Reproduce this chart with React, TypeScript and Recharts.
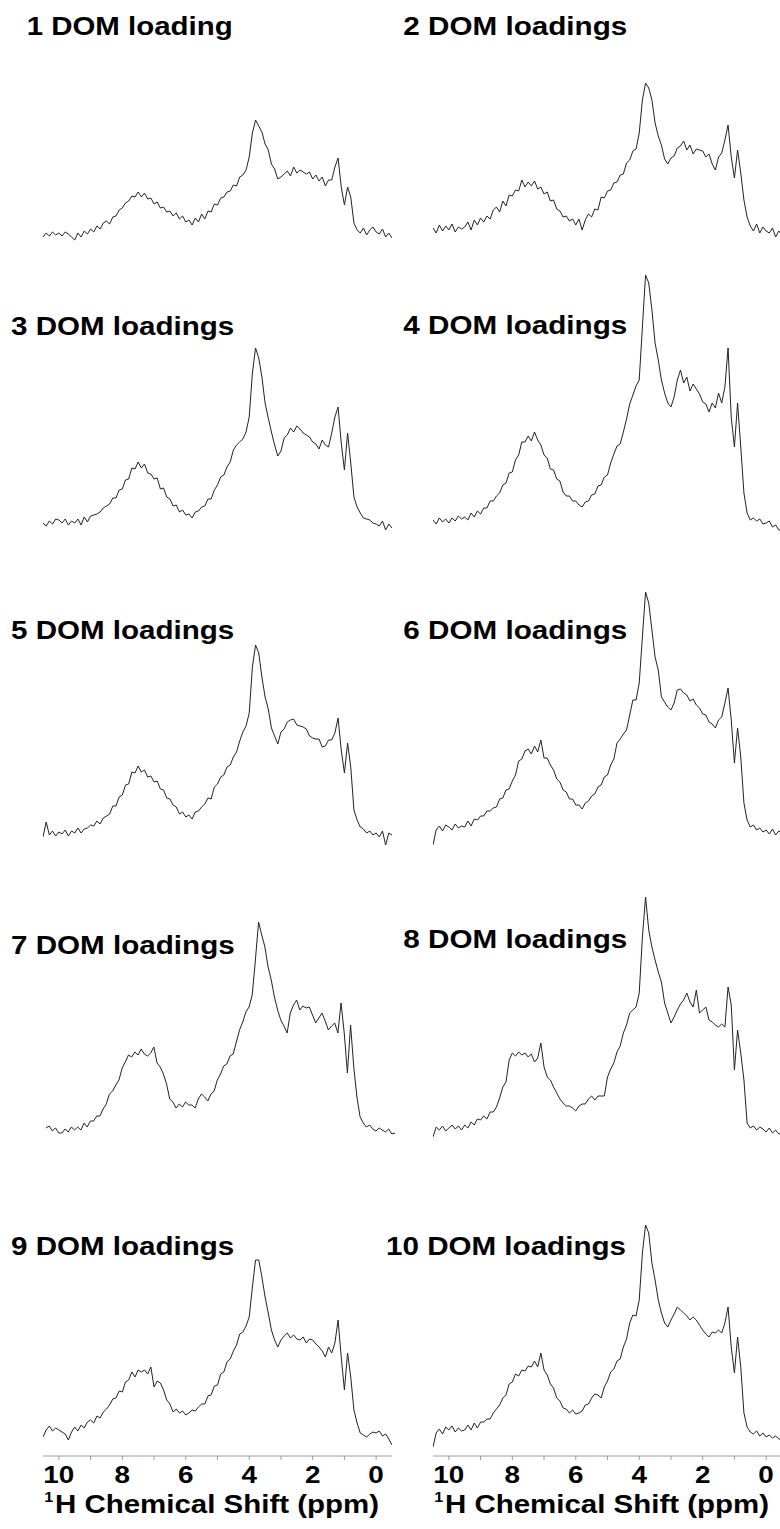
import React from 'react';
import { LineChart, Line, XAxis, YAxis } from 'recharts';

// chemical shift grid (ppm), high field on the right
const SHIFTS = [
  10.5, 10.4, 10.3, 10.2, 10.1, 10.0, 9.9, 9.8, 9.7, 9.6,
  9.5, 9.4, 9.3, 9.2, 9.1, 9.0, 8.9, 8.8, 8.7, 8.6,
  8.5, 8.4, 8.3, 8.2, 8.1, 8.0, 7.9, 7.8, 7.7, 7.6,
  7.5, 7.4, 7.3, 7.2, 7.1, 7.0, 6.9, 6.8, 6.7, 6.6,
  6.5, 6.4, 6.3, 6.2, 6.1, 6.0, 5.9, 5.8, 5.7, 5.6,
  5.5, 5.4, 5.3, 5.2, 5.1, 5.0, 4.9, 4.8, 4.7, 4.6,
  4.5, 4.4, 4.3, 4.2, 4.1, 4.0, 3.9, 3.8, 3.7, 3.6,
  3.5, 3.4, 3.3, 3.2, 3.1, 3.0, 2.9, 2.8, 2.7, 2.6,
  2.5, 2.4, 2.3, 2.2, 2.1, 2.0, 1.9, 1.8, 1.7, 1.6,
  1.5, 1.4, 1.3, 1.2, 1.1, 1.0, 0.9, 0.8, 0.7, 0.6,
  0.5, 0.4, 0.3, 0.2, 0.1, 0.0, -0.1, -0.2, -0.3, -0.4, -0.5,
];

const PPM_TICKS = [0, 1, 2, 3, 4, 5, 6, 7, 8, 9, 10];

const LABELS = [
  '1 DOM loading', '2 DOM loadings', '3 DOM loadings', '4 DOM loadings', '5 DOM loadings',
  '6 DOM loadings', '7 DOM loadings', '8 DOM loadings', '9 DOM loadings', '10 DOM loadings',
];

// intensities (arbitrary units) on the SHIFTS grid
const DOM1 = [
  13, 17, 14, 18, 15, 17, 14, 18, 16, 13,
  10, 17, 13, 19, 16, 21, 18, 24, 21, 27,
  29, 26, 33, 34, 40, 42, 47, 49, 54, 53,
  58, 53, 57, 51, 52, 46, 48, 42, 43, 38,
  39, 34, 37, 31, 34, 28, 30, 25, 32, 28,
  36, 31, 39, 38, 46, 45, 52, 53, 58, 59,
  65, 64, 73, 75, 80, 93, 117, 130, 124, 118,
  106, 100, 86, 81, 71, 73, 76, 79, 74, 83,
  77, 80, 78, 76, 78, 71, 75, 69, 73, 64,
  70, 70, 83, 92, 63, 45, 63, 53, 27, 20,
  17, 22, 15, 20, 23, 18, 16, 21, 13, 17, 12,
];
const DOM2 = [
  22, 17, 25, 19, 24, 20, 26, 18, 23, 21,
  23, 28, 20, 30, 25, 32, 28, 34, 31, 40,
  43, 38, 49, 44, 55, 54, 60, 59, 70, 63,
  68, 64, 69, 61, 63, 56, 58, 49, 50, 41,
  39, 33, 34, 29, 31, 25, 31, 20, 30, 36,
  33, 41, 40, 53, 52, 59, 60, 67, 68, 75,
  76, 87, 90, 99, 101, 117, 150, 167, 162, 150,
  127, 114, 105, 91, 86, 92, 94, 102, 104, 109,
  100, 105, 96, 101, 100, 99, 93, 96, 86, 80,
  93, 97, 110, 125, 93, 72, 100, 77, 50, 33,
  24, 19, 26, 17, 23, 19, 17, 22, 13, 19, 15,
];
const DOM3 = [
  22, 19, 24, 21, 26, 25, 22, 26, 20, 24,
  22, 26, 20, 28, 23, 29, 30, 31, 33, 37,
  39, 41, 47, 47, 55, 56, 65, 66, 77, 76,
  83, 77, 81, 72, 71, 66, 67, 56, 57, 48,
  46, 39, 40, 33, 35, 30, 31, 27, 33, 34,
  38, 39, 46, 46, 55, 60, 68, 70, 78, 83,
  95, 100, 103, 106, 113, 128, 172, 197, 187, 168,
  142, 127, 113, 100, 89, 94, 107, 110, 117, 113,
  119, 116, 112, 110, 108, 103, 101, 96, 105, 100,
  98, 112, 128, 138, 102, 75, 112, 82, 48, 38,
  32, 27, 26, 25, 22, 21, 19, 24, 15, 21, 17,
];
const DOM4 = [
  25, 21, 27, 23, 26, 22, 27, 24, 29, 26,
  28, 25, 32, 28, 34, 31, 37, 37, 44, 44,
  49, 52, 60, 62, 72, 73, 85, 90, 103, 103,
  109, 104, 113, 105, 100, 90, 87, 76, 75, 66,
  64, 53, 49, 49, 44, 44, 40, 38, 43, 44,
  50, 51, 59, 60, 68, 70, 82, 91, 99, 101,
  113, 126, 141, 150, 159, 165, 218, 270, 262, 235,
  202, 185, 165, 152, 142, 138, 148, 165, 175, 162,
  168, 154, 161, 156, 151, 143, 141, 133, 142, 137,
  152, 142, 158, 197, 128, 98, 142, 98, 52, 32,
  25, 27, 24, 26, 21, 22, 24, 18, 20, 15, 15,
];
const DOM5 = [
  18, 33, 20, 24, 19, 23, 21, 25, 19, 24,
  22, 27, 22, 26, 27, 30, 29, 34, 31, 37,
  39, 41, 49, 49, 58, 60, 70, 71, 83, 82,
  89, 83, 85, 78, 79, 73, 74, 66, 65, 57,
  56, 50, 48, 41, 43, 38, 40, 36, 43, 44,
  48, 51, 57, 56, 68, 71, 78, 80, 88, 90,
  98, 103, 114, 123, 129, 142, 188, 210, 202, 178,
  158, 146, 127, 119, 111, 123, 126, 133, 135, 136,
  130, 129, 128, 126, 119, 117, 116, 116, 108, 109,
  115, 115, 122, 137, 105, 82, 112, 88, 45, 35,
  28, 26, 22, 24, 20, 22, 18, 24, 10, 22, 20,
];
const DOM6 = [
  10, 25, 29, 24, 30, 28, 25, 31, 27, 29,
  28, 34, 29, 36, 35, 39, 39, 44, 44, 47,
  48, 56, 57, 65, 66, 74, 80, 94, 96, 104,
  106, 101, 109, 103, 115, 97, 97, 90, 85, 76,
  73, 65, 63, 56, 56, 50, 50, 46, 52, 54,
  59, 61, 68, 70, 78, 80, 90, 96, 112, 116,
  121, 125, 140, 155, 155, 172, 218, 263, 252, 225,
  198, 185, 158, 153, 148, 145, 152, 165, 166, 162,
  160, 154, 156, 150, 147, 141, 140, 133, 131, 127,
  135, 138, 152, 167, 135, 92, 127, 98, 52, 35,
  28, 30, 25, 27, 23, 25, 21, 26, 20, 24, 22,
];
const DOM7 = [
  22, 24, 19, 22, 17, 17, 21, 18, 23, 20,
  23, 20, 27, 23, 29, 29, 34, 34, 41, 46,
  56, 59, 65, 70, 82, 88, 95, 93, 98, 95,
  101, 96, 94, 97, 103, 87, 83, 76, 66, 51,
  48, 42, 46, 43, 48, 45, 45, 42, 51, 56,
  53, 49, 56, 59, 70, 76, 84, 86, 94, 96,
  108, 120, 128, 138, 143, 155, 190, 228, 215, 203,
  183, 170, 153, 140, 130, 124, 117, 137, 145, 150,
  140, 144, 142, 143, 135, 127, 132, 137, 129, 120,
  124, 127, 117, 147, 117, 77, 125, 83, 53, 33,
  27, 23, 25, 21, 19, 22, 20, 18, 21, 16, 17,
];
const DOM8 = [
  13, 23, 20, 24, 19, 22, 25, 21, 24, 20,
  25, 22, 28, 25, 31, 30, 34, 31, 38, 38,
  43, 52, 63, 68, 90, 97, 94, 98, 95, 97,
  93, 96, 88, 92, 107, 83, 73, 70, 63, 57,
  51, 47, 44, 44, 42, 39, 44, 46, 46, 51,
  54, 50, 54, 54, 54, 73, 81, 87, 98, 104,
  117, 125, 137, 140, 143, 157, 213, 253, 220, 203,
  190, 178, 168, 147, 137, 127, 133, 140, 146, 150,
  157, 148, 143, 160, 137, 140, 143, 130, 128, 125,
  123, 126, 123, 163, 145, 80, 120, 97, 70, 27,
  22, 24, 20, 23, 21, 18, 22, 17, 20, 16, 17,
];
const DOM9 = [
  19, 26, 30, 25, 28, 26, 24, 22, 16, 24,
  29, 25, 31, 28, 34, 36, 33, 40, 38, 44,
  47, 51, 57, 58, 65, 64, 74, 76, 84, 79,
  86, 84, 86, 82, 89, 69, 75, 73, 66, 56,
  52, 44, 47, 43, 45, 41, 43, 46, 45, 49,
  52, 52, 60, 61, 70, 71, 82, 84, 94, 97,
  105, 111, 122, 124, 130, 139, 169, 196, 196, 179,
  159, 143, 126, 116, 109, 116, 120, 123, 118, 121,
  117, 116, 119, 113, 117, 116, 112, 109, 105, 99,
  109, 103, 113, 136, 99, 66, 103, 79, 46, 33,
  23, 21, 19, 22, 24, 23, 25, 20, 22, 17, 11,
];
const DOM10 = [
  9, 23, 27, 22, 29, 26, 30, 24, 28, 25,
  26, 31, 26, 33, 28, 34, 34, 37, 37, 43,
  47, 51, 58, 61, 72, 74, 82, 80, 86, 85,
  90, 89, 95, 89, 103, 86, 81, 72, 68, 58,
  55, 48, 47, 43, 46, 42, 43, 45, 51, 52,
  58, 62, 61, 58, 69, 75, 84, 87, 95, 97,
  109, 117, 133, 141, 140, 156, 203, 231, 223, 193,
  176, 156, 143, 133, 129, 136, 142, 149, 146, 143,
  140, 136, 139, 136, 131, 126, 122, 119, 124, 123,
  126, 123, 133, 149, 109, 83, 119, 89, 43, 29,
  24, 22, 25, 20, 23, 19, 21, 18, 20, 17, 16,
];

const SPECTRA = [DOM1, DOM2, DOM3, DOM4, DOM5, DOM6, DOM7, DOM8, DOM9, DOM10];

// page layout: plot left edge, plot bottom, and title placement
const PLOT_W = 349;
const PLOT_H = 300;
const AXIS_H = 73;
const FONT = '"Liberation Sans", Arial, Helvetica, sans-serif';

const LAYOUT = [
  { left: 43, bottom: 250, tx: 26.7, ty: 35, tw: 206 },
  { left: 433, bottom: 250, tx: 403.3, ty: 35, tw: 224 },
  { left: 43, bottom: 545, tx: 11, ty: 335, tw: 223.3 },
  { left: 433, bottom: 545, tx: 403.3, ty: 334, tw: 224 },
  { left: 43, bottom: 855, tx: 11, ty: 639.3, tw: 223.3 },
  { left: 433, bottom: 855, tx: 403.3, ty: 639, tw: 224 },
  { left: 46, bottom: 1150, tx: 11, ty: 954, tw: 223.7 },
  { left: 433, bottom: 1150, tx: 403.3, ty: 948.3, tw: 224 },
  { left: 43, bottom: 1456, tx: 11, ty: 1255, tw: 223.3, axis: true },
  { left: 433, bottom: 1456, tx: 386, ty: 1255, tw: 240, axis: true },
];

function PpmTick(props: any) {
  const { x, payload } = props;
  const v = payload.value;
  if (v % 2 !== 0) return <g />;
  const label = String(v);
  return (
    <text
      x={x}
      y={PLOT_H + 26.7}
      textAnchor="middle"
      fontFamily={FONT}
      fontWeight="bold"
      fontSize={23}
      textLength={label.length > 1 ? 31 : 15.5}
      lengthAdjust="spacingAndGlyphs"
      fill="#000"
    >
      {label}
    </text>
  );
}

function ShiftTitle() {
  return (
    <g>
      <text x={1.3} y={PLOT_H + 45.7} fontFamily={FONT} fontWeight="bold" fontSize={14}
        textLength={9} lengthAdjust="spacingAndGlyphs" fill="#000">1</text>
      <text x={12} y={PLOT_H + 57.3} fontFamily={FONT} fontWeight="bold" fontSize={25.5}
        textLength={324} lengthAdjust="spacingAndGlyphs" fill="#000">H Chemical Shift (ppm)</text>
    </g>
  );
}

function Spectrum({ values, axis }: any) {
  const rows = SHIFTS.map((ppm, i) => ({ ppm, v: values[i] }));
  return (
    <LineChart
      width={PLOT_W}
      height={axis ? PLOT_H + AXIS_H : PLOT_H}
      data={rows}
      margin={{ top: 0, right: 0, bottom: 0, left: 0 }}
    >
      <XAxis
        dataKey="ppm"
        type="number"
        domain={[-0.5, 10.5]}
        reversed
        allowDataOverflow
        ticks={PPM_TICKS}
        interval={0}
        hide={!axis}
        height={axis ? AXIS_H : 0}
        axisLine={{ stroke: '#9a9a9a', strokeWidth: 1 }}
        tickLine={{ stroke: '#9a9a9a', strokeWidth: 1 }}
        tickSize={4}
        tick={<PpmTick />}
        label={axis ? { content: () => <ShiftTitle /> } : undefined}
      />
      <YAxis hide domain={[0, PLOT_H]} allowDataOverflow />
      <Line
        type="linear"
        dataKey="v"
        stroke="#222"
        strokeWidth={1}
        dot={false}
        isAnimationActive={false}
      />
    </LineChart>
  );
}

export default function App() {
  return (
    <div style={{ position: 'absolute', left: 0, top: 0, width: 780, height: 1529, overflow: 'hidden', background: '#fff' }}>
      {LAYOUT.map((p, i) => (
        <div key={i} style={{ position: 'absolute', left: p.left, top: p.bottom - PLOT_H }}>
          <Spectrum values={SPECTRA[i]} axis={!!p.axis} />
        </div>
      ))}
      <svg width={780} height={1529} style={{ position: 'absolute', left: 0, top: 0, pointerEvents: 'none' }}>
        {LAYOUT.map((p, i) => (
          <text key={i} x={p.tx} y={p.ty} fontFamily={FONT} fontWeight="bold" fontSize={26.5}
            textLength={p.tw} lengthAdjust="spacingAndGlyphs" fill="#000">
            {LABELS[i]}
          </text>
        ))}
      </svg>
    </div>
  );
}
